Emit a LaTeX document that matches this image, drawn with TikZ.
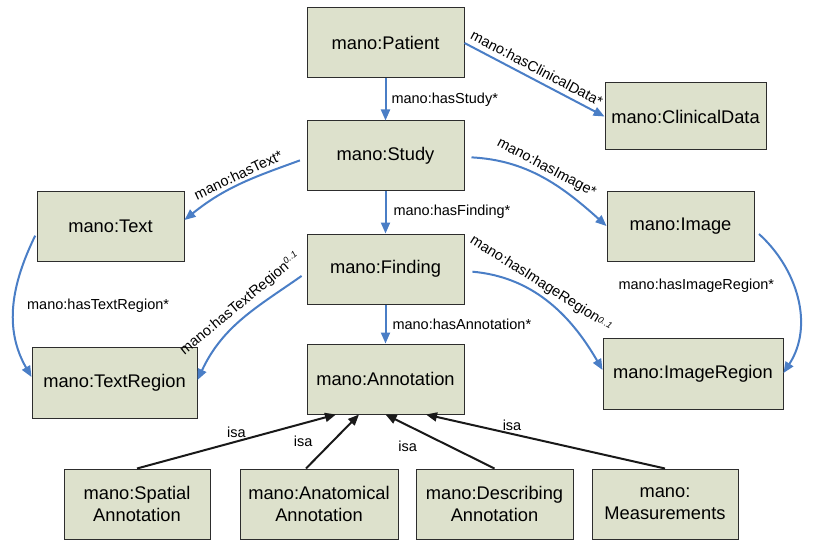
\documentclass[tikz,border=0pt]{standalone}
\usepackage{fontspec}
\setmainfont{Liberation Sans}
\usetikzlibrary{arrows.meta}
\definecolor{boxfill}{RGB}{221,225,204}
\definecolor{edgeblue}{RGB}{74,126,198}
\definecolor{boxline}{RGB}{45,45,45}
\newcommand{\mycardfont}{\fontsize{9}{10}\selectfont\itshape}
\begin{document}
\begin{tikzpicture}[x=1pt,y=-1pt,
  cls/.style={draw=boxline, line width=1pt, fill=boxfill, inner sep=0pt, align=center,
    font=\fontsize{18.3}{22}\selectfont},
  rel/.style={draw=edgeblue, line width=2pt, -{Triangle[length=11pt,width=9pt]}},
  isarel/.style={draw=black!90, line width=2pt, -{Triangle[length=11pt,width=9pt]}},
  lbl/.style={font=\fontsize{14.5}{17}\selectfont, inner sep=2pt, text=black}
]
\useasboundingbox (0,0) rectangle (813,540);
% classes
\node[cls, minimum width=157pt, minimum height=70pt] (patient) at (385.5,43) {mano:Patient};
\node[cls, minimum width=161pt, minimum height=67pt] (clinical) at (685.5,116.5) {mano:ClinicalData};
\node[cls, minimum width=157pt, minimum height=69pt] (study) at (385.5,155.5) {mano:Study};
\node[cls, minimum width=147pt, minimum height=70pt] (text) at (110.5,226) {mano:Text};
\node[cls, minimum width=147pt, minimum height=70pt] (image) at (680.5,226) {mano:Image};
\node[cls, minimum width=157pt, minimum height=70pt] (finding) at (385.5,269) {mano:Finding};
\node[cls, minimum width=165pt, minimum height=71pt] (textregion) at (114.5,382.5) {mano:TextRegion};
\node[cls, minimum width=157pt, minimum height=70pt] (annotation) at (385.5,379) {mano:Annotation};
\node[cls, minimum width=180pt, minimum height=71pt] (imageregion) at (693,373.5) {mano:ImageRegion};
\node[cls, minimum width=146pt, minimum height=70pt] (spatial) at (137,504) {mano:Spatial\\Annotation};
\node[cls, minimum width=158pt, minimum height=70pt] (anatomical) at (319,504) {mano:Anatomical\\Annotation};
\node[cls, minimum width=157pt, minimum height=70pt] (describing) at (494.5,504) {mano:Describing\\Annotation};
\node[cls, minimum width=146pt, minimum height=70pt] (measurements) at (665,504) {mano:\\Measurements};
% relations
\draw[rel] (patient.south) -- node[lbl, right=3pt] {mano:hasStudy*} (study.north);
\draw[rel] (patient.east) -- node[lbl, sloped, above=3pt, pos=0.48] {mano:hasClinicalData*} (clinical.west);
\draw[rel, shorten <=7pt] ([yshift=-2.5pt]study.west) to[out=200, in=39]
  node[lbl, sloped, above=1pt, pos=0.5] {mano:hasText*} ([yshift=6pt]text.east);
\draw[rel, shorten <=7pt] ([yshift=-1.5pt]study.east) to[out=-3, in=138]
  node[lbl, sloped, above=1pt, pos=0.5] {mano:hasImage*} (image.west);
\draw[rel] (study.south) -- node[lbl, right=5pt] {mano:hasFinding*} (finding.north);
\draw[rel, shorten <=3pt] ([yshift=-7pt]text.west) to[out=244, in=120]
  node[lbl, anchor=west, xshift=10pt, pos=0.5] {mano:hasTextRegion*} ([yshift=5.5pt]textregion.west);
\draw[rel, shorten <=6pt] ([yshift=-3.5pt]finding.west) to[out=215, in=65]
  node[lbl, sloped, above=3pt, pos=0.45] {mano:hasTextRegion\raisebox{0.7ex}{\mycardfont 0..1}} ([yshift=2.5pt]textregion.east);
\draw[rel, shorten <=8pt] ([yshift=-2pt]finding.east) to[out=-5, in=120]
  node[lbl, sloped, above=2pt, pos=0.42] {mano:hasImageRegion\raisebox{0.2ex}{\mycardfont 0..1}} ([yshift=3.5pt]imageregion.west);
\draw[rel, shorten <=6pt] ([yshift=-4pt]image.east) to[out=-42, in=57]
  node[lbl, anchor=east, xshift=-16pt, pos=0.42] {mano:hasImageRegion*} ([yshift=0.5pt]imageregion.east);
\draw[rel] (finding.south) -- node[lbl, right=4pt] {mano:hasAnnotation*} (annotation.north);
% isa
\draw[isarel] (spatial.north) -- node[lbl, above=1pt, pos=0.5] {isa} ([xshift=-49.5pt]annotation.south);
\draw[isarel] ([xshift=-13pt]anatomical.north) -- node[lbl, left=17pt, pos=0.5] {isa} ([xshift=-26.5pt]annotation.south);
\draw[isarel] (describing.north) -- node[lbl, left=20pt, yshift=-5pt, pos=0.5] {isa} (annotation.south);
\draw[isarel] (measurements.north) -- node[lbl, above, pos=0.64] {isa} ([xshift=40.5pt]annotation.south);
\end{tikzpicture}
\end{document}
